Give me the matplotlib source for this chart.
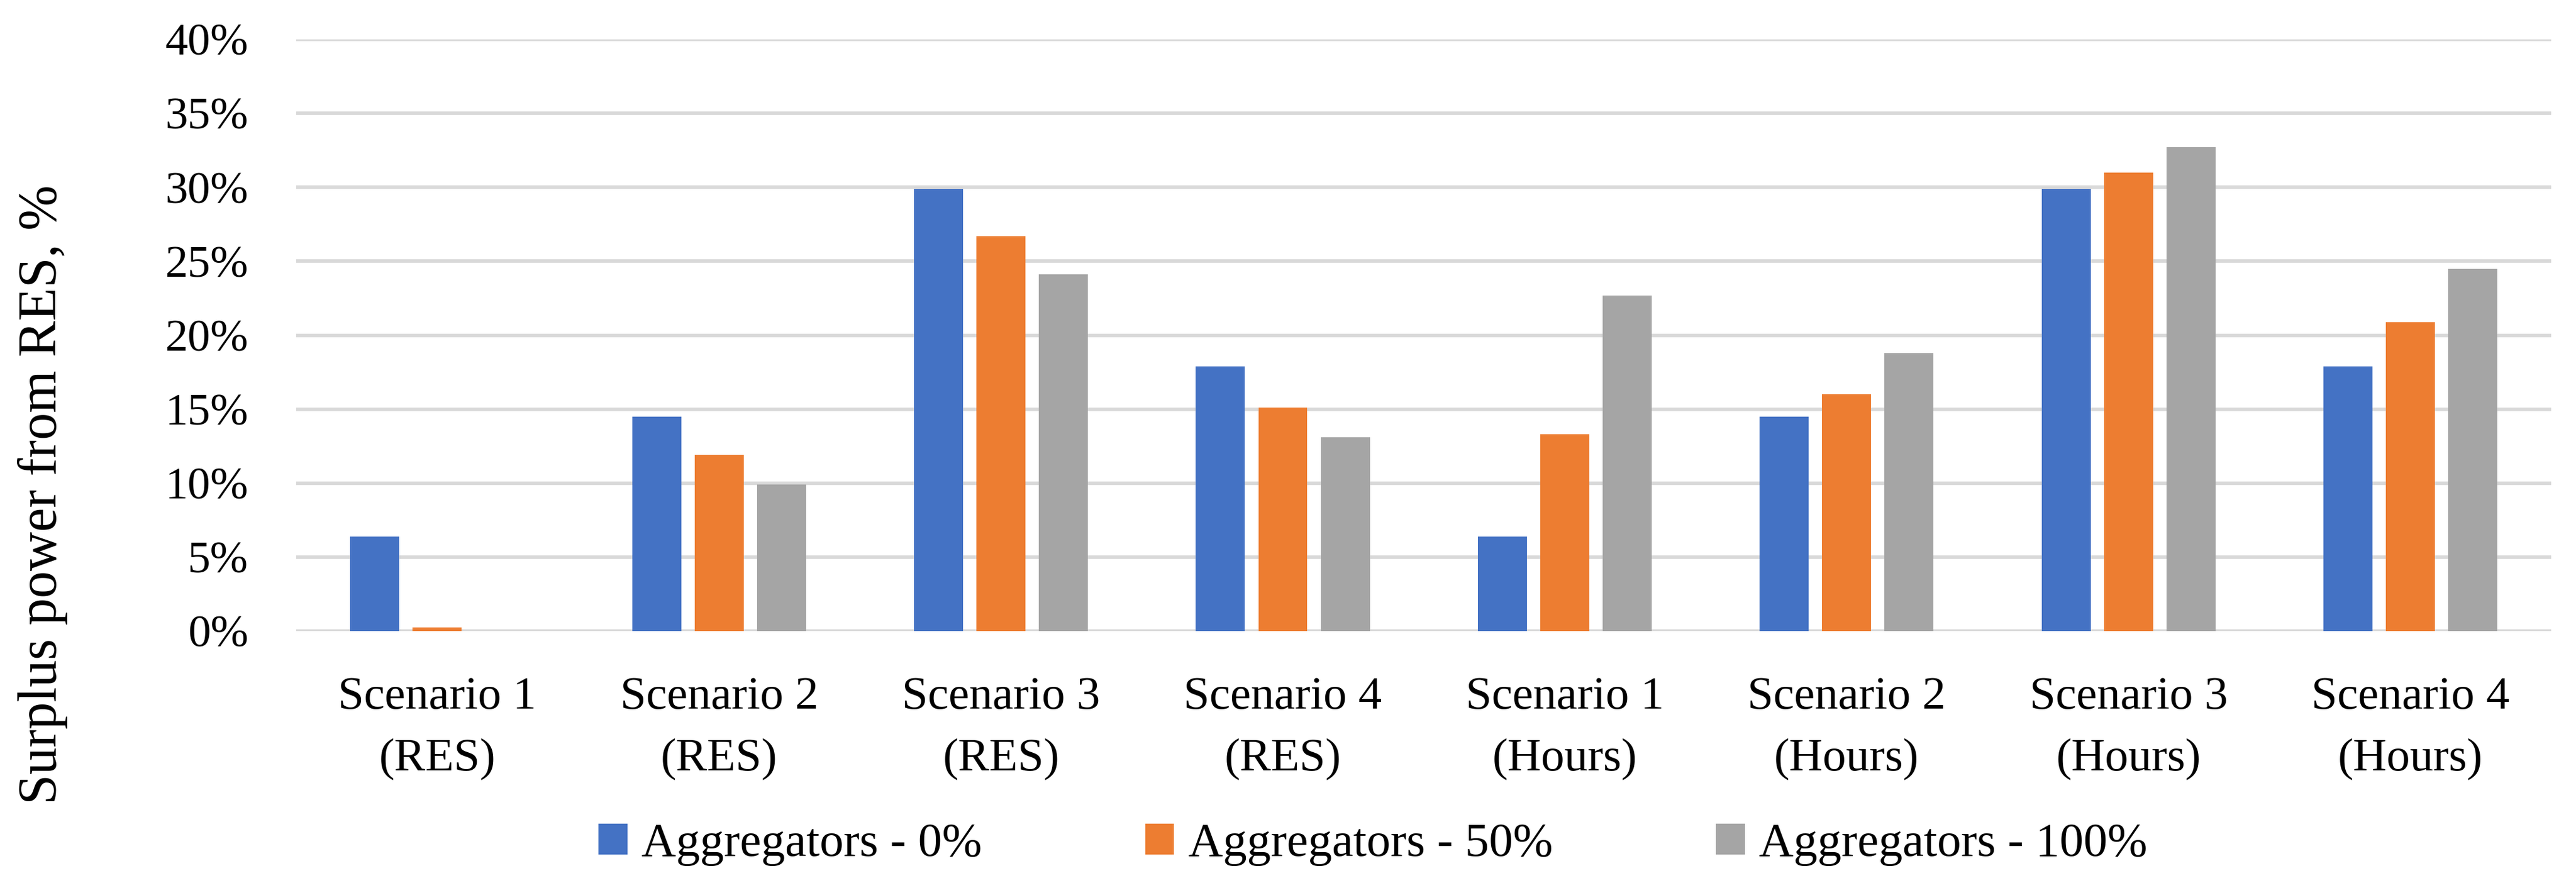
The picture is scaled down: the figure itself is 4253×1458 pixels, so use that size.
import numpy as np
import matplotlib
matplotlib.use("Agg")
import matplotlib.pyplot as plt

plt.rcParams['font.family'] = ['Liberation Serif', 'DejaVu Serif']

categories = ['Scenario 1\n(RES)', 'Scenario 2\n(RES)', 'Scenario 3\n(RES)', 'Scenario 4\n(RES)',
              'Scenario 1\n(Hours)', 'Scenario 2\n(Hours)', 'Scenario 3\n(Hours)', 'Scenario 4\n(Hours)']
series_names = ['Aggregators - 0%', 'Aggregators - 50%', 'Aggregators - 100%']
agg_0 = [6.4, 14.5, 29.9, 17.9, 6.4, 14.5, 29.9, 17.9]
agg_50 = [0.25, 11.9, 26.7, 15.1, 13.3, 16.0, 31.0, 20.9]
agg_100 = [0.0, 9.9, 24.1, 13.1, 22.7, 18.8, 32.7, 24.5]
y_ticks = [0, 5, 10, 15, 20, 25, 30, 35, 40]
y_tick_labels = ['0%', '5%', '10%', '15%', '20%', '25%', '30%', '35%', '40%']

colors = ['#4472C4', '#ED7D31', '#A5A5A5']

fig = plt.figure(figsize=(14.177, 4.86), dpi=300)
ax = fig.add_axes([0.115, 0.2853, 0.9904 - 0.115, 0.9554 - 0.2853])

x = np.arange(len(categories))
width = 0.174
step = 0.2215
for i, (vals, name) in enumerate(zip([agg_0, agg_50, agg_100], series_names)):
    ax.bar(x + (i - 1) * step, vals, width, color=colors[i], label=name, zorder=3)

ax.set_xlim(-0.5, len(categories) - 0.5)
ax.set_ylim(0, 40)
ax.set_yticks(y_ticks)
ax.set_yticklabels(y_tick_labels)
ax.set_xticks(x)
ax.set_xticklabels(categories, linespacing=1.62)
ax.grid(axis='y', color='#D9D9D9', linewidth=1.4, zorder=0)
ax.set_axisbelow(True)
for s in ax.spines.values():
    s.set_visible(False)
ax.tick_params(axis='y', length=0, pad=19, labelsize=18)
ax.tick_params(axis='x', length=0, pad=18, labelsize=18.5)

fig.text(0.0165, 0.44, 'Surplus power from RES, %', rotation=90,
         ha='center', va='center', fontsize=21.5)

fig.legend(loc='center', bbox_to_anchor=(0.533, 0.0435), ncol=3, frameon=False,
           fontsize=19, handlelength=0.6, handleheight=0.6, handletextpad=0.3,
           columnspacing=3.4, borderpad=0, borderaxespad=0)

fig.savefig('out.png', dpi=300)
